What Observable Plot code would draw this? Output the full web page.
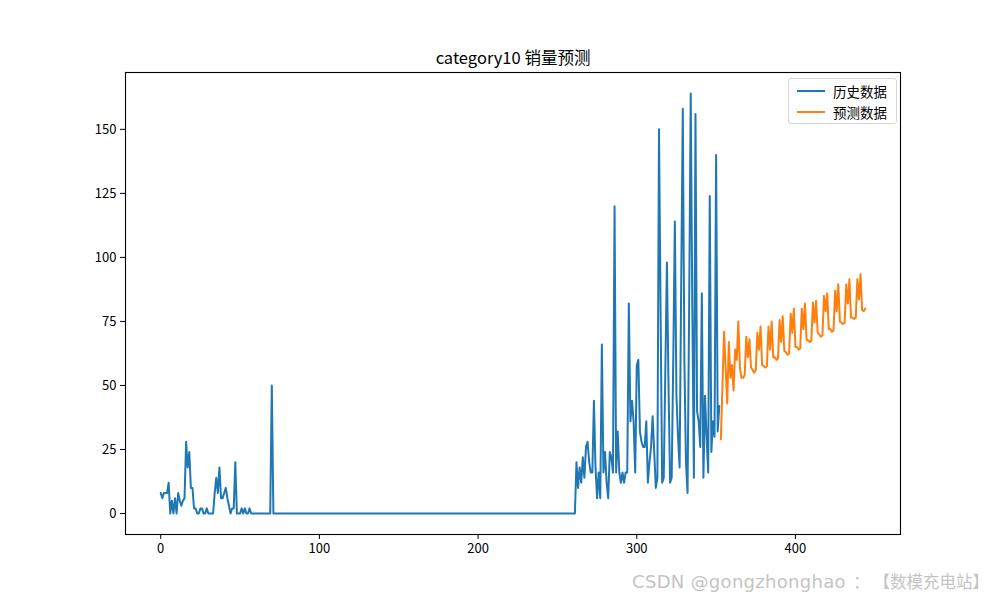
<!DOCTYPE html>
<html>
<head>
<meta charset="utf-8">
<script src="https://cdn.jsdelivr.net/npm/d3@7"></script>
<script src="https://cdn.jsdelivr.net/npm/@observablehq/plot@0.6"></script>
<style>
  html, body { margin: 0; padding: 0; background: #fff; }
  #wrap { position: relative; width: 1000px; height: 600px; overflow: hidden; font-family: "Noto Sans CJK SC", "Noto Sans", sans-serif; }
  #legend { position: absolute; left: 788px; top: 78px; width: 109px; height: 46px; box-sizing: border-box;
            border: 1px solid #d6d6d6; border-radius: 3px; background: rgba(255,255,255,0.8); }
  .lg { position: absolute; left: 8px; height: 20px; display: flex; align-items: center; font-size: 13.5px; color: #000; }
  .lg span.sw { display: inline-block; width: 28px; height: 0; border-top: 2px solid; margin-right: 8px; }
  #wm { position: absolute; right: 11px; top: 569px; color: #c4c4c4; white-space: pre;
        text-shadow: 0 0 1px #fff; display: flex; align-items: baseline; }
  #wm .lat { font-family: "DejaVu Sans", sans-serif; font-size: 18px; letter-spacing: 0.3px; }
  #wm .cjk { font-family: "Noto Sans CJK SC", sans-serif; font-size: 16.5px; }
</style>
</head>
<body>
<div id="wrap"></div>
<script>
// ---- data ----
const titleText = "category10 销量预测";
const seriesNames = ["历史数据", "预测数据"];
const seriesColors = ["#1f77b4", "#ff7f0e"];
const xTicks = [0, 100, 200, 300, 400];
const yTicks = [0, 25, 50, 75, 100, 125, 150];
const watermarkLatin = "CSDN @gongzhonghao";
const watermarkCjk = "  ： 【数模充电站】";

// history, index 0 .. 352
const historyValues = [
  8,6,8,8,8,12,0,5,0,6,
  0,8,5,3,5,6,28,18,24,10,
  10,2,2,0,0,2,2,0,0,2,
  0,0,0,0,8,14,8,18,6,6,
  8,10,6,3,0,2,2,20,0,0,
  0,2,0,2,0,0,2,0,0,0,
  0,0,0,0,0,0,0,0,0,0,
  50,0,0,0,0,0,0,0,0,0,
  0,0,0,0,0,0,0,0,0,0,
  0,0,0,0,0,0,0,0,0,0,
  0,0,0,0,0,0,0,0,0,0,
  0,0,0,0,0,0,0,0,0,0,
  0,0,0,0,0,0,0,0,0,0,
  0,0,0,0,0,0,0,0,0,0,
  0,0,0,0,0,0,0,0,0,0,
  0,0,0,0,0,0,0,0,0,0,
  0,0,0,0,0,0,0,0,0,0,
  0,0,0,0,0,0,0,0,0,0,
  0,0,0,0,0,0,0,0,0,0,
  0,0,0,0,0,0,0,0,0,0,
  0,0,0,0,0,0,0,0,0,0,
  0,0,0,0,0,0,0,0,0,0,
  0,0,0,0,0,0,0,0,0,0,
  0,0,0,0,0,0,0,0,0,0,
  0,0,0,0,0,0,0,0,0,0,
  0,0,0,0,0,0,0,0,0,0,
  0,0,20,10,18,12,22,14,26,28,
  20,16,16,44,18,6,16,6,66,16,
  24,12,6,24,22,16,120,16,32,16,
  12,16,12,16,16,82,36,44,36,16,
  58,60,32,28,26,26,36,12,20,26,
  38,24,10,14,150,80,12,14,56,98,
  50,12,14,60,114,46,30,18,90,158,
  60,20,8,80,164,80,14,156,40,36,
  26,86,14,46,30,16,124,24,36,30,
  140,32,42
];

// forecast, index 353 .. 444
const forecastStart = 353;
const forecastValues = [
  29,50,71,57,43,67,53,
  58,48,64,60,75,57,53,53,54,69,
  61,68,57,56,55,56,70.6,64,73,58,
  57.6,57,57.5,73,64,75,61,61,60,60.5,
  75.6,67,77,63.5,63,62,62.5,78,70.6,80,
  65,65,64,64.5,80,72,82,68,67.5,67,
  67.5,82.4,74.5,83,70.6,70,69,69.5,85,79,
  86,72,72,71,71.5,87,79,89.5,75,74.5,
  74,74.5,89.5,82,91.5,76.5,76.5,76,76.5,91.5,
  83.6,93.4,79.5,79,80
];

// ---- build tables ----
const history = historyValues.map((v, i) => ({t: i, v}));
const forecast = forecastValues.map((v, i) => ({t: forecastStart + i, v}));

const fontFam = "'Noto Sans CJK SC', 'Noto Sans', sans-serif";

const chart = Plot.plot({
  width: 1000,
  height: 600,
  marginLeft: 125,
  marginRight: 100,
  marginTop: 72,
  marginBottom: 66,
  style: {fontFamily: fontFam, fontSize: "13px", color: "#000", background: "#fff", overflow: "visible"},
  x: {domain: [-22.2, 466.2]},
  y: {domain: [-8.2, 172.2]},
  marks: [
    Plot.lineY(history, {x: "t", y: "v", stroke: seriesColors[0], strokeWidth: 2, strokeLinejoin: "round"}),
    Plot.lineY(forecast, {x: "t", y: "v", stroke: seriesColors[1], strokeWidth: 2, strokeLinejoin: "round"}),
    Plot.frame({stroke: "#000", strokeWidth: 1.1}),
    Plot.axisX({ticks: xTicks, tickSize: 5, tickPadding: 4, label: null, tickFormat: d => String(d), fontSize: 13}),
    Plot.axisY({ticks: yTicks, tickSize: 5, tickPadding: 4, label: null, tickFormat: d => String(d), fontSize: 13}),
    Plot.text([titleText], {frameAnchor: "top", lineAnchor: "middle", dy: -14, text: d => d, fontSize: 16.5, fill: "#000"})
  ]
});

const wrap = document.getElementById("wrap");
wrap.appendChild(chart);

// legend overlay
const legend = document.createElement("div");
legend.id = "legend";
seriesNames.forEach((name, i) => {
  const row = document.createElement("div");
  row.className = "lg";
  row.style.top = (2 + i * 21) + "px";
  const sw = document.createElement("span");
  sw.className = "sw";
  sw.style.borderTopColor = seriesColors[i];
  row.appendChild(sw);
  row.appendChild(document.createTextNode(name));
  legend.appendChild(row);
});
wrap.appendChild(legend);

// watermark
const wm = document.createElement("div");
wm.id = "wm";
const s1 = document.createElement("span"); s1.className = "lat"; s1.textContent = watermarkLatin;
const s2 = document.createElement("span"); s2.className = "cjk"; s2.textContent = watermarkCjk;
wm.appendChild(s1); wm.appendChild(s2);
wrap.appendChild(wm);
</script>
</body>
</html>
